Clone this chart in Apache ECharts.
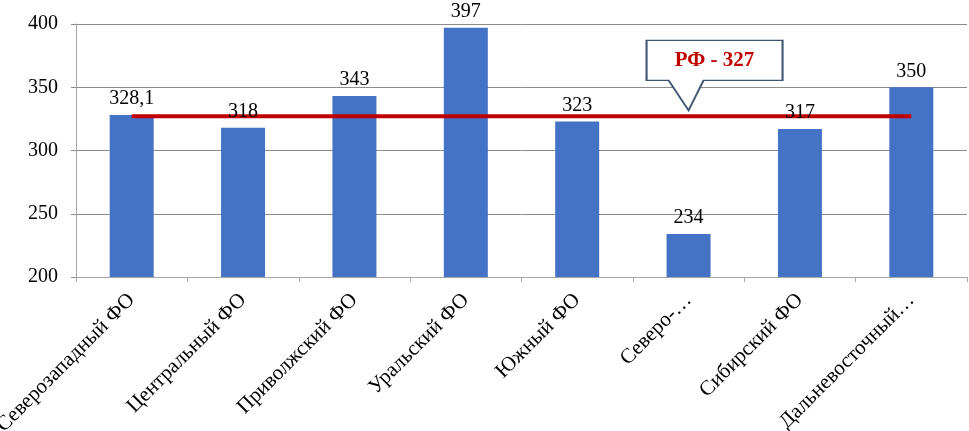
<!DOCTYPE html>
<html><head><meta charset="utf-8">
<script src="https://cdn.jsdelivr.net/npm/echarts@6/dist/echarts.min.js"></script>
<style>html,body{margin:0;padding:0;background:#fff}#c{width:969px;height:431px}</style>
</head><body><div id="c"></div>
<script>
const categories = ['Северозападный ФО','Центральный ФО','Приволжский ФО','Уральский ФО','Южный ФО','Северо-…','Сибирский ФО','Дальневосточный…'];
const values = [328.1, 318, 343, 397, 323, 234, 317, 350];
const rfValue = 327;
const rfLine = categories.map(() => rfValue);
const yTicks = {min: 200, max: 400, interval: 50};
const calloutText = 'РФ - 327';
const calloutCategory = 'Северо-…';

const serif = 'Liberation Serif';
const chart = echarts.init(document.getElementById('c'), null, {renderer:'canvas'});
const calloutPath = 'path://M0,0 L136,0 L136,40 L57,40 L42,70 L22,40 L0,40 Z';
chart.setOption({
  animation:false,
  textStyle:{fontFamily:serif},
  grid:{left:76, right:2, top:24, bottom:154, containLabel:false, outerBoundsMode:'none'},
  xAxis:{type:'category', data:categories,
    axisLine:{lineStyle:{color:'#a6a6a6', width:1}},
    axisTick:{show:true, alignWithLabel:false, length:5, lineStyle:{color:'#a6a6a6'}},
    axisLabel:{rotate:45, color:'#000', fontFamily:serif, fontSize:21, margin:20, interval:0}
  },
  yAxis:{type:'value', min:yTicks.min, max:yTicks.max, interval:yTicks.interval,
    axisLine:{show:true, lineStyle:{color:'#a6a6a6'}},
    axisTick:{show:true, length:5, lineStyle:{color:'#8c8c8c'}},
    splitLine:{lineStyle:{color:'#8c8c8c', width:1}},
    axisLabel:{color:'#000', fontFamily:serif, fontSize:20, margin:18}
  },
  series:[
    {type:'bar', data:values, barWidth:44, itemStyle:{color:'#4472C4'}, z:2},
    {type:'line', data:rfLine, symbol:'none', lineStyle:{color:'#C00000', width:4}, z:5,
     markPoint:{
       symbol:calloutPath, symbolSize:[136,70], symbolOffset:[26,-41],
       itemStyle:{color:'#fff', borderColor:'#3F5672', borderWidth:1.5},
       label:{show:true, position:'inside', offset:[0,-15], formatter:calloutText,
         color:'#C00000', fontFamily:serif, fontWeight:'bold', fontSize:21},
       data:[{coord:[calloutCategory, rfValue]}]
     }},
    {type:'bar', data:values, barWidth:44, barGap:'-100%', z:8, silent:true,
     itemStyle:{color:'rgba(0,0,0,0)'},
     label:{show:true, position:'top', distance:6, color:'#000', fontFamily:serif, fontSize:20,
       formatter:p=>String(p.value).replace('.',',')}}
  ]
});
</script></body></html>
